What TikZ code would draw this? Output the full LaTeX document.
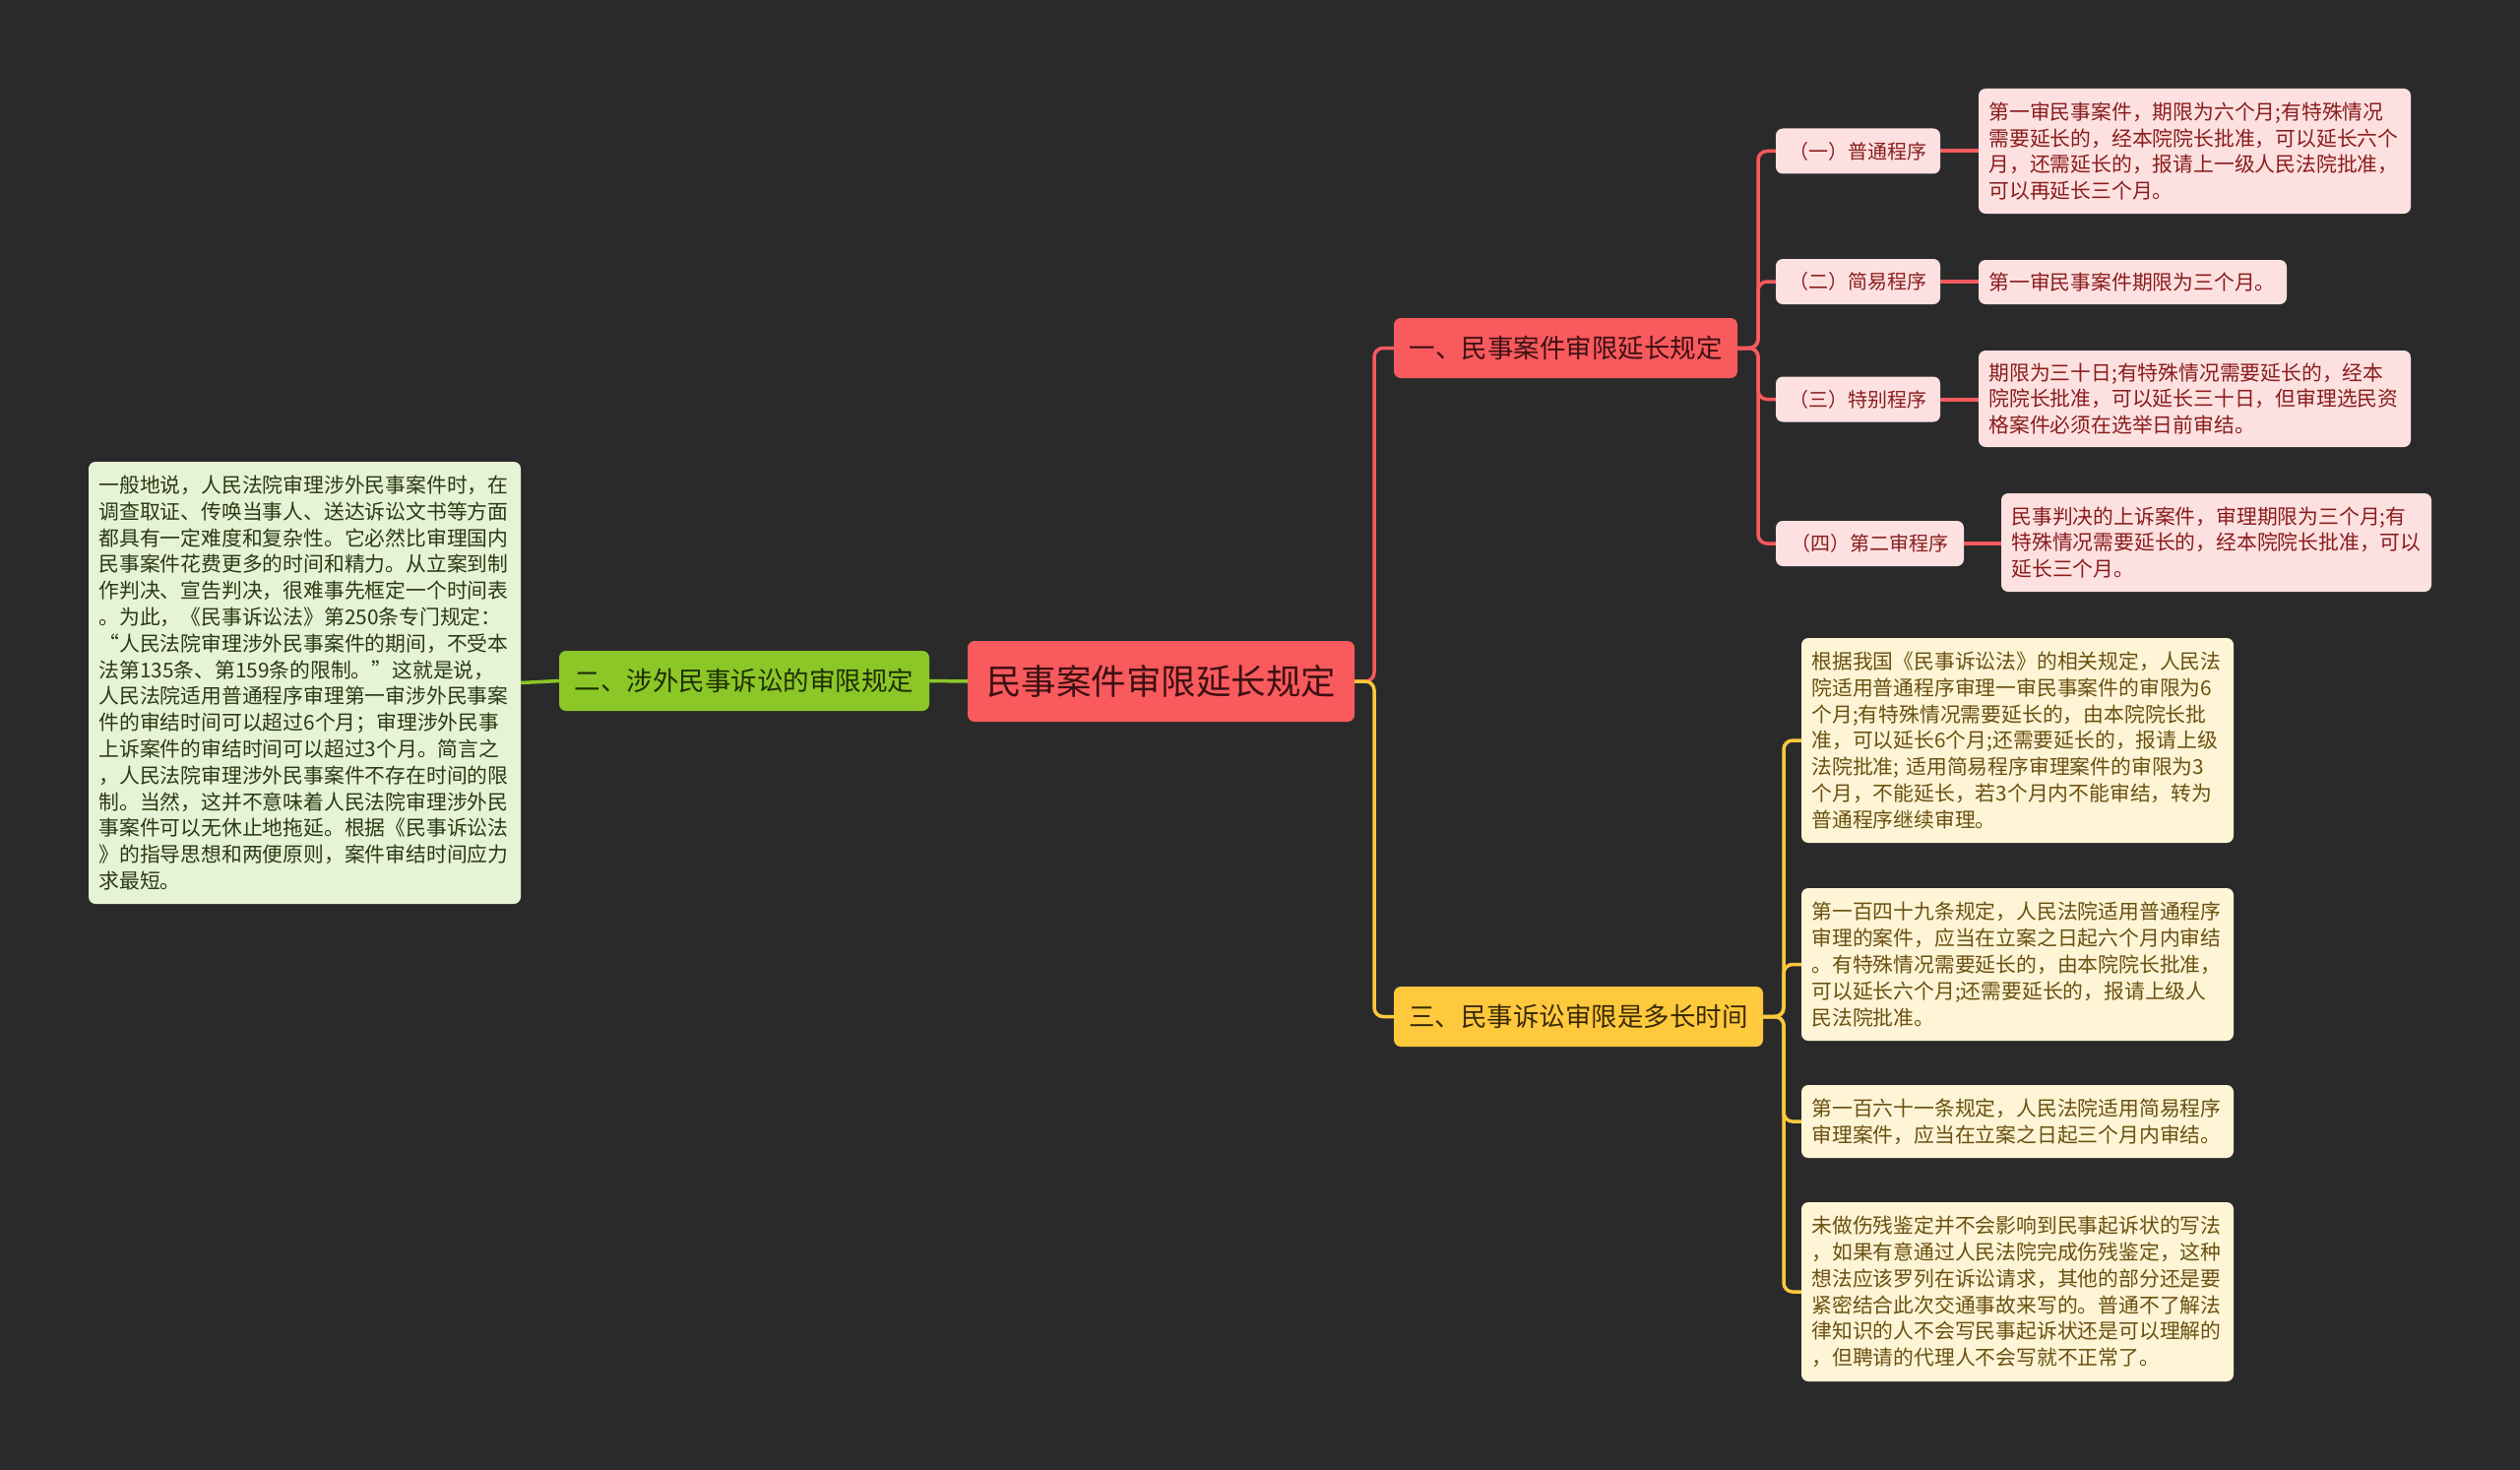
\documentclass[tikz,border=0pt]{standalone}
\usepackage{fontspec}
\setmainfont{Noto Sans CJK SC}
\definecolor{bgc}{HTML}{2A2A2A}
\definecolor{redc}{HTML}{F95A5D}
\definecolor{redtxt}{HTML}{3C1012}
\definecolor{pinkc}{HTML}{FDE1E1}
\definecolor{pinktxt}{HTML}{8A1C1C}
\definecolor{yelc}{HTML}{FFC93D}
\definecolor{yeltxt}{HTML}{3A2A05}
\definecolor{creamc}{HTML}{FDF5D6}
\definecolor{creamtxt}{HTML}{6B5010}
\definecolor{grnc}{HTML}{8BC727}
\definecolor{grntxt}{HTML}{1E2E05}
\definecolor{lgrnc}{HTML}{E7F3D6}
\definecolor{lgrntxt}{HTML}{2B3A12}
\tikzset{
  box/.style={rounded corners=7pt, inner ysep=0pt, outer sep=0pt},
  centerbox/.style={box, fill=redc, text=redtxt, minimum width=393pt, minimum height=82pt, font=\fontsize{35.5}{40}\selectfont},
  midbox/.style={box, minimum height=61pt, font=\fontsize{26.5}{30}\selectfont},
  subbox/.style={box, fill=pinkc, text=pinktxt, minimum height=46pt, font=\fontsize{20}{24}\selectfont},
  leaf/.style={box, align=left, inner xsep=10.5pt, font=\fontsize{20.8}{26.8}\selectfont},
  pinkleaf/.style={leaf, fill=pinkc, text=pinktxt},
  creamleaf/.style={leaf, fill=creamc, text=creamtxt},
  greenleaf/.style={leaf, fill=lgrnc, text=lgrntxt},
  redline/.style={draw=redc, line width=3.5pt, rounded corners=9pt},
  yelline/.style={draw=yelc, line width=3.5pt, rounded corners=9pt},
  grnline/.style={draw=grnc, line width=3.5pt},
}
\begin{document}
\begin{tikzpicture}[x=1pt,y=-1pt]
\fill[bgc] (0,0) rectangle (2560,1493);
\useasboundingbox (0,0) rectangle (2560,1493);

% nodes
\node[centerbox] (root) at (1179.5,692) {民事案件审限延长规定};
\node[midbox, fill=grnc, text=grntxt, minimum width=376pt] (g) at (756,691.5) {二、涉外民事诉讼的审限规定};
\node[greenleaf, text width=418pt, minimum height=449pt] (gl) at (309.5,693.5) {一般地说，人民法院审理涉外民事案件时，在\\调查取证、传唤当事人、送达诉讼文书等方面\\都具有一定难度和复杂性。它必然比审理国内\\民事案件花费更多的时间和精力。从立案到制\\作判决、宣告判决，很难事先框定一个时间表\\。为此，《民事诉讼法》第250条专门规定：\\“人民法院审理涉外民事案件的期间，不受本\\法第135条、第159条的限制。”这就是说，\\人民法院适用普通程序审理第一审涉外民事案\\件的审结时间可以超过6个月；审理涉外民事\\上诉案件的审结时间可以超过3个月。简言之\\，人民法院审理涉外民事案件不存在时间的限\\制。当然，这并不意味着人民法院审理涉外民\\事案件可以无休止地拖延。根据《民事诉讼法\\》的指导思想和两便原则，案件审结时间应力\\求最短。};

\node[midbox, fill=redc, text=redtxt, minimum width=349pt] (r) at (1590.5,353.5) {一、民事案件审限延长规定};
\node[midbox, fill=yelc, text=yeltxt, minimum width=375pt] (y) at (1603.5,1032.5) {三、民事诉讼审限是多长时间};

\node[subbox, minimum width=167pt] (s1) at (1887.5,153.5) {（一）普通程序};
\node[subbox, minimum width=167pt] (s2) at (1887.5,286) {（二）简易程序};
\node[subbox, minimum width=167pt] (s3) at (1887.5,405.5) {（三）特别程序};
\node[subbox, minimum width=191pt] (s4) at (1899.5,552) {（四）第二审程序};

\node[pinkleaf, text width=418pt, minimum height=127pt] (l1) at (2229.5,153.5) {第一审民事案件，期限为六个月;有特殊情况\\需要延长的，经本院院长批准，可以延长六个\\月，还需延长的，报请上一级人民法院批准，\\可以再延长三个月。};
\node[pinkleaf, text width=292pt, minimum height=45pt] (l2) at (2166.5,286.5) {第一审民事案件期限为三个月。};
\node[pinkleaf, text width=418pt, minimum height=98pt] (l3) at (2229.5,405) {期限为三十日;有特殊情况需要延长的，经本\\院院长批准，可以延长三十日，但审理选民资\\格案件必须在选举日前审结。};
\node[pinkleaf, text width=416pt, minimum height=100pt] (l4) at (2251.5,551) {民事判决的上诉案件，审理期限为三个月;有\\特殊情况需要延长的，经本院院长批准，可以\\延长三个月。};

\node[creamleaf, text width=418pt, minimum height=208pt] (y1) at (2049.5,752) {根据我国《民事诉讼法》的相关规定，人民法\\院适用普通程序审理一审民事案件的审限为6\\个月;有特殊情况需要延长的，由本院院长批\\准，可以延长6个月;还需要延长的，报请上级\\法院批准; 适用简易程序审理案件的审限为3\\个月，不能延长，若3个月内不能审结，转为\\普通程序继续审理。};
\node[creamleaf, text width=418pt, minimum height=155pt] (y2) at (2049.5,979.5) {第一百四十九条规定，人民法院适用普通程序\\审理的案件，应当在立案之日起六个月内审结\\。有特殊情况需要延长的，由本院院长批准，\\可以延长六个月;还需要延长的，报请上级人\\民法院批准。};
\node[creamleaf, text width=418pt, minimum height=74pt] (y3) at (2049.5,1139) {第一百六十一条规定，人民法院适用简易程序\\审理案件，应当在立案之日起三个月内审结。};
\node[creamleaf, text width=418pt, minimum height=182pt] (y4) at (2049.5,1312) {未做伤残鉴定并不会影响到民事起诉状的写法\\，如果有意通过人民法院完成伤残鉴定，这种\\想法应该罗列在诉讼请求，其他的部分还是要\\紧密结合此次交通事故来写的。普通不了解法\\律知识的人不会写民事起诉状还是可以理解的\\，但聘请的代理人不会写就不正常了。};

% connectors
\coordinate (j0) at (1396,692);
\coordinate (j1) at (1786,353.5);
\coordinate (j2) at (1812,1032.5);

\path[redline] (root.east) -- (j0) |- (r.west);
\path[yelline] (root.east) -- (j0) |- (y.west);
\path[grnline] (g.east) -- (root.west);
\path[grnline] (gl.east) -- (g.west);

\path[redline] (r.east) -- (j1) |- (s1.west);
\path[redline] (r.east) -- (j1) |- (s2.west);
\path[redline] (r.east) -- (j1) |- (s3.west);
\path[redline] (r.east) -- (j1) |- (s4.west);
\path[redline, line width=4pt] (s1.east) -- (l1.west |- s1.east);
\path[redline, line width=4pt] (s2.east) -- (l2.west |- s2.east);
\path[redline, line width=4pt] (s3.east) -- (l3.west |- s3.east);
\path[redline, line width=4pt] (s4.east) -- (l4.west |- s4.east);

\path[yelline] (y.east) -- (j2) |- (y1.west);
\path[yelline] (y.east) -- (j2) |- (y2.west);
\path[yelline] (y.east) -- (j2) |- (y3.west);
\path[yelline] (y.east) -- (j2) |- (y4.west);
\end{tikzpicture}
\end{document}
